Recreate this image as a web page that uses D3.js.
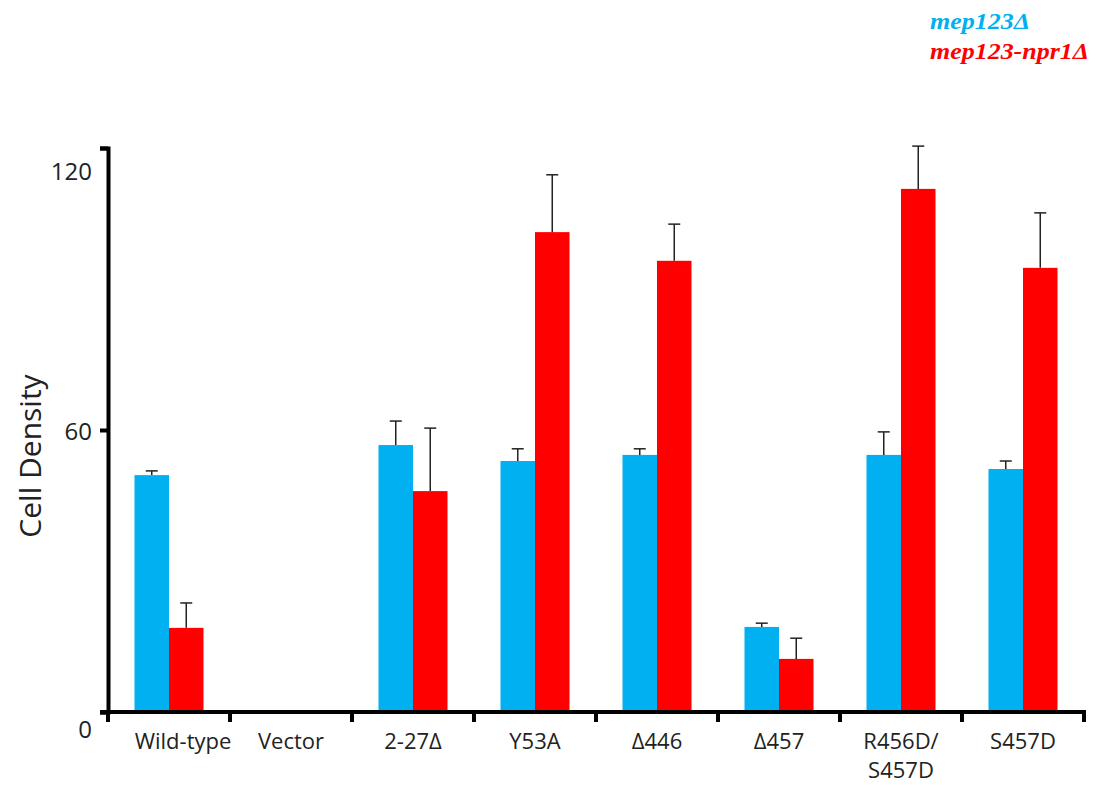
<!DOCTYPE html>
<html>
<head>
<meta charset="utf-8">
<script src="https://cdn.jsdelivr.net/npm/d3@7"></script>
<style>
  body { margin: 0; background: #fff; }
  svg { display: block; }
</style>
</head>
<body>
<svg width="1102" height="785"></svg>
<script>
// values (null = no bar drawn)
const categories = ["Wild-type", "Vector", "2-27Δ", "Y53A", "Δ446", "Δ457", "R456D/\nS457D", "S457D"];
const mep123 = [50.4, null, 56.8, 53.4, 54.7, 18.1, 54.7, 51.7];
const mep123Err = [0.9, null, 5.1, 2.6, 1.3, 0.8, 4.9, 1.7];
const npr1 = [17.9, null, 47.0, 102.1, 96.0, 11.3, 111.3, 94.5];
const npr1Err = [5.3, null, 13.4, 12.2, 7.8, 4.4, 9.1, 11.7];
const yTicks = [0, 60, 120];
const seriesNames = ["mep123Δ", "mep123-npr1Δ"];
const colors = ["#00b0f0", "#ff0000"];

const svg = d3.select("svg");

const x = d3.scaleBand()
    .domain(categories)
    .range([108, 1084])
    .padding(0);

const y = d3.scaleLinear()
    .domain([0, 120])
    .range([712, 148]);

const barW = 34.5;
const x1 = d3.scaleBand()
    .domain([0, 1])
    .range([x.bandwidth() / 2 - barW, x.bandwidth() / 2 + barW]);

const rows = categories.map((c, i) => ({
    cat: c,
    vals: [
        { s: 0, v: mep123[i], e: mep123Err[i] },
        { s: 1, v: npr1[i], e: npr1Err[i] }
    ].filter(d => d.v != null)
}));

// bars
const groups = svg.selectAll("g.grp")
    .data(rows)
    .enter()
    .append("g")
    .attr("class", "grp")
    .attr("transform", d => `translate(${x(d.cat)},0)`);

groups.selectAll("rect")
    .data(d => d.vals)
    .enter()
    .append("rect")
    .attr("x", d => x1(d.s))
    .attr("width", x1.bandwidth())
    .attr("y", d => y(d.v))
    .attr("height", d => y(0) - y(d.v))
    .attr("fill", d => colors[d.s]);

// error bars (upper only)
const err = groups.selectAll("g.err")
    .data(d => d.vals)
    .enter()
    .append("g")
    .attr("class", "err")
    .attr("stroke", "#222")
    .attr("stroke-width", 1.5);

err.append("line")
    .attr("x1", d => x1(d.s) + x1.bandwidth() / 2)
    .attr("x2", d => x1(d.s) + x1.bandwidth() / 2)
    .attr("y1", d => y(d.v))
    .attr("y2", d => y(d.v + d.e));

err.append("line")
    .attr("x1", d => x1(d.s) + x1.bandwidth() / 2 - 6)
    .attr("x2", d => x1(d.s) + x1.bandwidth() / 2 + 6)
    .attr("y1", d => y(d.v + d.e))
    .attr("y2", d => y(d.v + d.e));

// y axis
const yAxis = svg.append("g")
    .attr("transform", "translate(108,0)")
    .call(d3.axisLeft(y).tickValues(yTicks).tickSize(8).tickSizeOuter(8).tickFormat(""));
yAxis.selectAll("path, line").attr("stroke", "#000").attr("stroke-width", 4);

const labelNudge = { 0: 18, 60: 2, 120: 24 };
svg.selectAll("text.ytick")
    .data(yTicks)
    .enter()
    .append("text")
    .attr("class", "ytick")
    .attr("x", 92)
    .attr("y", d => y(d) + labelNudge[d])
    .attr("dy", "0.35em")
    .attr("text-anchor", "end")
    .attr("font-family", "Open Sans")
    .attr("font-size", 24)
    .attr("fill", "#222")
    .text(d => d);

// x axis
svg.append("line")
    .attr("x1", 100).attr("x2", 1086)
    .attr("y1", y(0)).attr("y2", y(0))
    .attr("stroke", "#000").attr("stroke-width", 4);

const edges = categories.map(c => x(c)).concat([x.range()[1]]);
svg.selectAll("line.xtick")
    .data(edges)
    .enter()
    .append("line")
    .attr("class", "xtick")
    .attr("x1", d => d).attr("x2", d => d)
    .attr("y1", y(0)).attr("y2", y(0) + 10)
    .attr("stroke", "#000").attr("stroke-width", 4);

const xl = svg.selectAll("text.xlab")
    .data(categories)
    .enter()
    .append("text")
    .attr("class", "xlab")
    .attr("x", d => x(d) + x.bandwidth() / 2 + (d === "Wild-type" ? 14 : 0))
    .attr("y", 749)
    .attr("text-anchor", "middle")
    .attr("font-family", "Open Sans")
    .attr("font-size", 22)
    .attr("fill", "#222");

xl.selectAll("tspan")
    .data(d => d.split("\n"))
    .enter()
    .append("tspan")
    .attr("x", function() { return d3.select(this.parentNode).attr("x"); })
    .attr("dy", (d, i) => i === 0 ? 0 : 29)
    .text(d => d);

// y axis title
svg.append("text")
    .attr("transform", "translate(41,456) rotate(-90)")
    .attr("text-anchor", "middle")
    .attr("font-family", "Open Sans")
    .attr("font-size", 30)
    .attr("fill", "#222")
    .text("Cell Density");

// legend
const legendLen = [100, 159];
svg.selectAll("text.leg")
    .data(seriesNames)
    .enter()
    .append("text")
    .attr("class", "leg")
    .attr("x", 930)
    .attr("y", (d, i) => 29 + i * 30)
    .attr("font-family", "Liberation Serif")
    .attr("font-style", "italic")
    .attr("font-weight", "bold")
    .attr("font-size", 24)
    .attr("textLength", (d, i) => legendLen[i])
    .attr("lengthAdjust", "spacingAndGlyphs")
    .attr("fill", (d, i) => colors[i])
    .text(d => d);
</script>
</body>
</html>
